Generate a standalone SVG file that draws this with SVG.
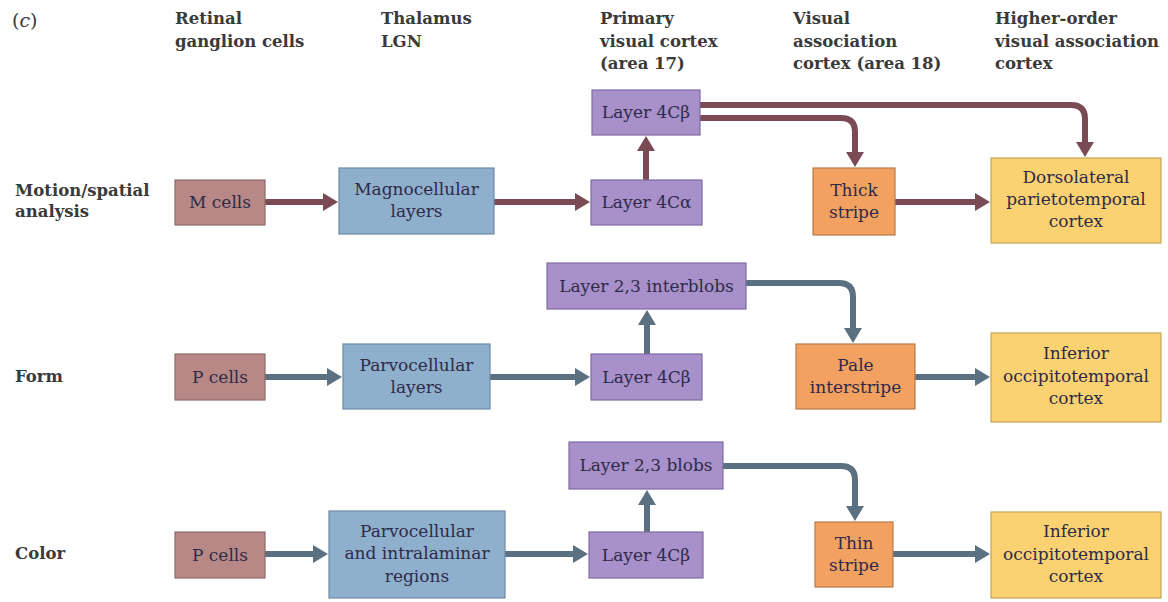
<svg xmlns="http://www.w3.org/2000/svg" width="1168" height="602" viewBox="0 0 1168 602">
<defs>
<style>
.hdr{font-family:"DejaVu Serif","Liberation Serif",serif;font-weight:bold;font-size:16.5px;fill:#3a3a3a}
.lbl{font-family:"DejaVu Serif","Liberation Serif",serif;font-size:17px;fill:#2e2a48;text-anchor:middle}
.rose{fill:#b78886;stroke:#8d6b6b;stroke-width:1.2}
.blue{fill:#8fb0cd;stroke:#6e8aa4;stroke-width:1.2}
.purp{fill:#a890ca;stroke:#7e6ca0;stroke-width:1.2}
.orng{fill:#f2a160;stroke:#b77c4c;stroke-width:1.2}
.yell{fill:#fbd271;stroke:#c3a455;stroke-width:1.2}
.cm{fill:none;stroke:#7a4b55;stroke-width:6}
.cs{fill:none;stroke:#5b7080;stroke-width:6}
</style>
<marker id="am" markerUnits="userSpaceOnUse" markerWidth="16" markerHeight="20" refX="1" refY="9" orient="auto">
<path d="M0,0 L15,9 L0,18 z" fill="#7a4b55"/>
</marker>
<marker id="as" markerUnits="userSpaceOnUse" markerWidth="16" markerHeight="20" refX="1" refY="9" orient="auto">
<path d="M0,0 L15,9 L0,18 z" fill="#5b7080"/>
</marker>
</defs>
<rect width="1168" height="602" fill="#ffffff"/>

<g id="headers">
<text x="12" y="27" style="font-family:'DejaVu Serif','Liberation Serif',serif;font-size:19px;fill:#3a3a3a">(<tspan font-style="italic">c</tspan>)</text>
<text class="hdr" x="175" y="24">Retinal</text>
<text class="hdr" x="175" y="47">ganglion cells</text>
<text class="hdr" x="381" y="24">Thalamus</text>
<text class="hdr" x="381" y="47">LGN</text>
<text class="hdr" x="600" y="24">Primary</text>
<text class="hdr" x="600" y="47">visual cortex</text>
<text class="hdr" x="600" y="69">(area 17)</text>
<text class="hdr" x="793" y="24">Visual</text>
<text class="hdr" x="793" y="47">association</text>
<text class="hdr" x="793" y="69">cortex (area 18)</text>
<text class="hdr" x="995" y="24">Higher-order</text>
<text class="hdr" x="995" y="47">visual association</text>
<text class="hdr" x="995" y="69">cortex</text>
<text class="hdr" x="15" y="196">Motion/spatial</text>
<text class="hdr" x="15" y="217">analysis</text>
<text class="hdr" x="15" y="382">Form</text>
<text class="hdr" x="15" y="559">Color</text>
</g>

<g id="connectors">
<path class="cm" d="M265,202 H324" marker-end="url(#am)"/>
<path class="cm" d="M494,202 H576" marker-end="url(#am)"/>
<path class="cm" d="M646,180 V150" marker-end="url(#am)"/>
<path class="cm" d="M700,105 H1071 Q1085,105 1085,119 V143" marker-end="url(#am)"/>
<path class="cm" d="M700,118 H841 Q855,118 855,132 V153" marker-end="url(#am)"/>
<path class="cm" d="M895,202 H976" marker-end="url(#am)"/>
<path class="cs" d="M265,377 H328" marker-end="url(#as)"/>
<path class="cs" d="M490,377 H576" marker-end="url(#as)"/>
<path class="cs" d="M647,354 V324" marker-end="url(#as)"/>
<path class="cs" d="M746,283 H839 Q853,283 853,297 V329" marker-end="url(#as)"/>
<path class="cs" d="M915,377 H976" marker-end="url(#as)"/>
<path class="cs" d="M265,554 H314" marker-end="url(#as)"/>
<path class="cs" d="M505,554 H574" marker-end="url(#as)"/>
<path class="cs" d="M647,532 V504" marker-end="url(#as)"/>
<path class="cs" d="M723,466 H841 Q855,466 855,480 V507" marker-end="url(#as)"/>
<path class="cs" d="M893,554 H976" marker-end="url(#as)"/>
</g>

<g id="m_cells"><rect class="rose" x="175" y="180" width="90" height="45"/><text class="lbl" x="220" y="208">M cells</text></g>
<g id="magnocellular"><rect class="blue" x="339" y="168" width="155" height="66"/><text class="lbl" x="416.5" y="195">Magnocellular</text><text class="lbl" x="416.5" y="217">layers</text></g>
<g id="layer4ca"><rect class="purp" x="591" y="180" width="111" height="45"/><text class="lbl" x="646.5" y="208">Layer 4Cα</text></g>
<g id="layer4cb_motion"><rect class="purp" x="592" y="90" width="108" height="45"/><text class="lbl" x="646" y="118">Layer 4Cβ</text></g>
<g id="thick_stripe"><rect class="orng" x="813" y="168" width="82" height="67"/><text class="lbl" x="854" y="196">Thick</text><text class="lbl" x="854" y="218">stripe</text></g>
<g id="dorsolateral"><rect class="yell" x="991" y="158" width="170" height="85"/><text class="lbl" x="1076" y="183">Dorsolateral</text><text class="lbl" x="1076" y="205">parietotemporal</text><text class="lbl" x="1076" y="227">cortex</text></g>

<g id="p_cells_form"><rect class="rose" x="175" y="354" width="90" height="46"/><text class="lbl" x="220" y="383">P cells</text></g>
<g id="parvocellular"><rect class="blue" x="343" y="344" width="147" height="65"/><text class="lbl" x="416.5" y="371">Parvocellular</text><text class="lbl" x="416.5" y="393">layers</text></g>
<g id="layer4cb_form"><rect class="purp" x="591" y="354" width="111" height="46"/><text class="lbl" x="646.5" y="383">Layer 4Cβ</text></g>
<g id="interblobs"><rect class="purp" x="547" y="263" width="199" height="46"/><text class="lbl" x="646.5" y="292">Layer 2,3 interblobs</text></g>
<g id="pale_interstripe"><rect class="orng" x="796" y="344" width="119" height="65"/><text class="lbl" x="855.5" y="371">Pale</text><text class="lbl" x="855.5" y="393">interstripe</text></g>
<g id="inferior_form"><rect class="yell" x="991" y="333" width="170" height="89"/><text class="lbl" x="1076" y="359">Inferior</text><text class="lbl" x="1076" y="382">occipitotemporal</text><text class="lbl" x="1076" y="404">cortex</text></g>

<g id="p_cells_color"><rect class="rose" x="175" y="532" width="90" height="46"/><text class="lbl" x="220" y="561">P cells</text></g>
<g id="parvo_intralaminar"><rect class="blue" x="329" y="511" width="176" height="87"/><text class="lbl" x="417" y="537">Parvocellular</text><text class="lbl" x="417" y="559">and intralaminar</text><text class="lbl" x="417" y="582">regions</text></g>
<g id="layer4cb_color"><rect class="purp" x="589" y="532" width="114" height="46"/><text class="lbl" x="646" y="561">Layer 4Cβ</text></g>
<g id="blobs"><rect class="purp" x="569" y="442" width="154" height="47"/><text class="lbl" x="646" y="471">Layer 2,3 blobs</text></g>
<g id="thin_stripe"><rect class="orng" x="815" y="522" width="78" height="65"/><text class="lbl" x="854" y="549">Thin</text><text class="lbl" x="854" y="571">stripe</text></g>
<g id="inferior_color"><rect class="yell" x="991" y="512" width="170" height="86"/><text class="lbl" x="1076" y="537">Inferior</text><text class="lbl" x="1076" y="560">occipitotemporal</text><text class="lbl" x="1076" y="582">cortex</text></g>
</svg>
